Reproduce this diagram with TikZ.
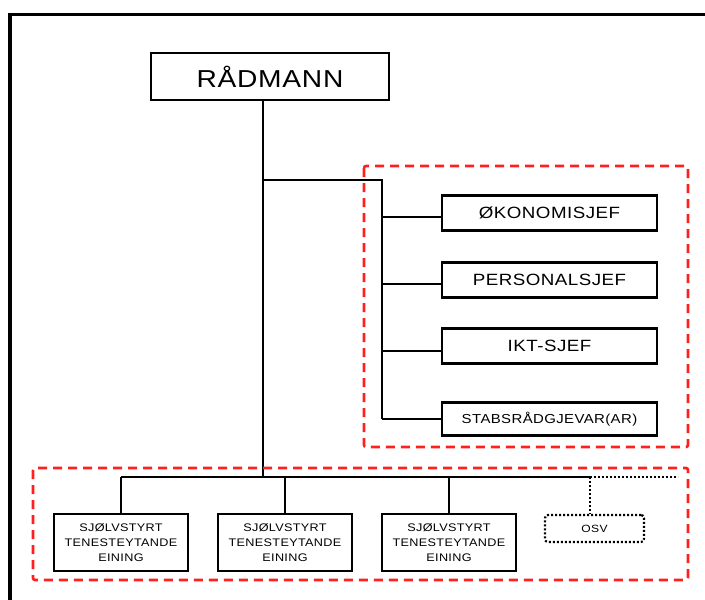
\documentclass[tikz,border=0pt]{standalone}
\usepackage{fontspec}
\newfontfamily\orgfont{Liberation Sans}[FakeStretch=1.15,LetterSpace=3]
\usetikzlibrary{calc}
\usetikzlibrary{positioning}

\begin{document}
\begin{tikzpicture}[x=1pt,y=-1pt,
  mainbox/.style={rectangle,draw=black,line width=2pt,minimum width=238pt,minimum height=47pt,inner sep=0pt,font=\orgfont\fontsize{24.5}{24.5}\selectfont},
  staffbox/.style={rectangle,draw=black,line width=2.8pt,minimum width=215pt,minimum height=35pt,inner sep=0pt,font=\orgfont\fontsize{16.3}{16.3}\selectfont},
  unitbox/.style={rectangle,draw=black,line width=2.6pt,minimum width=134pt,minimum height=57pt,inner sep=0pt,align=center,font=\orgfont\fontsize{11}{15}\selectfont},
  link/.style={line width=2.3pt},
  dotlink/.style={line width=2.2pt,dash pattern=on 2pt off 2pt},
  redframe/.style={draw=red!88!white,line width=2.6pt,dash pattern=on 9pt off 6pt,rounded corners=2pt}]

\useasboundingbox (0,0) rectangle (705,600);
\coordinate (CORNER) at (0,0);

% draw outer frame (top and left only)
\draw[line width=3pt] ($(CORNER)+(8,14)$) -- ++(697,0);
\draw[line width=3.4pt] ($(CORNER)+(10,12.5)$) -- ++(0,587.5);

%%%%%%%%%%%%%%%%%%%%%

%draw top box
\node[mainbox] at ($(CORNER)+(270,76.5)$) (RADMANN) {RÅDMANN};

%draw staff boxes
\node[staffbox] at ($(CORNER)+(549.5,213)$) (ECON) {ØKONOMISJEF};
\node[staffbox] at ($(CORNER)+(549.5,280)$) (PERS) {PERSONALSJEF};
\node[staffbox] at ($(CORNER)+(549.5,346)$) (IKT) {IKT-SJEF};
\node[staffbox,minimum height=33pt,font=\orgfont\fontsize{13}{13}\selectfont] at ($(CORNER)+(549.5,419)$) (STAB) {STABSRÅDGJEVAR(AR)};

%draw unit boxes
\node[unitbox] at ($(CORNER)+(121,542.5)$) (UNIT1) {SJØLVSTYRT\\TENESTEYTANDE\\EINING};
\node[unitbox] at ($(CORNER)+(285,542.5)$) (UNIT2) {SJØLVSTYRT\\TENESTEYTANDE\\EINING};
\node[unitbox] at ($(CORNER)+(449,542.5)$) (UNIT3) {SJØLVSTYRT\\TENESTEYTANDE\\EINING};
\node[rectangle,draw=black,dotlink,rounded corners=3pt,minimum width=99pt,minimum height=27pt,inner sep=0pt,font=\orgfont\fontsize{10.5}{10.5}\selectfont] at ($(CORNER)+(594.5,528.5)$) (OSV) {OSV};

%%%%%%%%%%%%%%%%%%%
%draw lines

\coordinate (TRUNK) at ($(RADMANN.south)+(-7,0)$);
\coordinate (STAFFBUS) at ($(CORNER)+(382,180)$);
\coordinate (UNITJOIN) at ($(CORNER)+(263,477)$);
\coordinate (OSVJOIN) at ($(CORNER)+(590,477)$);
\coordinate (BUSEND) at ($(CORNER)+(678,477)$);

\draw[link] (TRUNK) -- (UNITJOIN);
\draw[link] (TRUNK |- STAFFBUS) -- (STAFFBUS) -- (STAFFBUS |- STAB.west);

\draw[link] ($(STAFFBUS |- ECON.west)+(0,4)$) -- ($(ECON.west)+(0,4)$);
\draw[link] ($(STAFFBUS |- PERS.west)+(0,4)$) -- ($(PERS.west)+(0,4)$);
\draw[link] ($(STAFFBUS |- IKT.west)+(0,5)$) -- ($(IKT.west)+(0,5)$);
\draw[link] (STAFFBUS |- STAB.west) -- (STAB.west);

\draw[link] (UNIT1.north |- UNITJOIN) -- (OSVJOIN);
\draw[link] (UNIT1.north |- UNITJOIN) -- (UNIT1.north);
\draw[link] (UNIT2.north |- UNITJOIN) -- (UNIT2.north);
\draw[link] (UNIT3.north |- UNITJOIN) -- (UNIT3.north);
\draw[dotlink] (OSVJOIN) -- (OSVJOIN |- OSV.north);
\draw[dotlink] (OSVJOIN) -- (BUSEND);

%%%%%%%%%%%%%%%%%%%
%draw red groups
\draw[redframe] ($(CORNER)+(364,166)$) rectangle ($(CORNER)+(688,447)$);
\draw[redframe] ($(CORNER)+(33,468)$) rectangle ($(CORNER)+(688,580)$);

\end{tikzpicture}
\end{document}
